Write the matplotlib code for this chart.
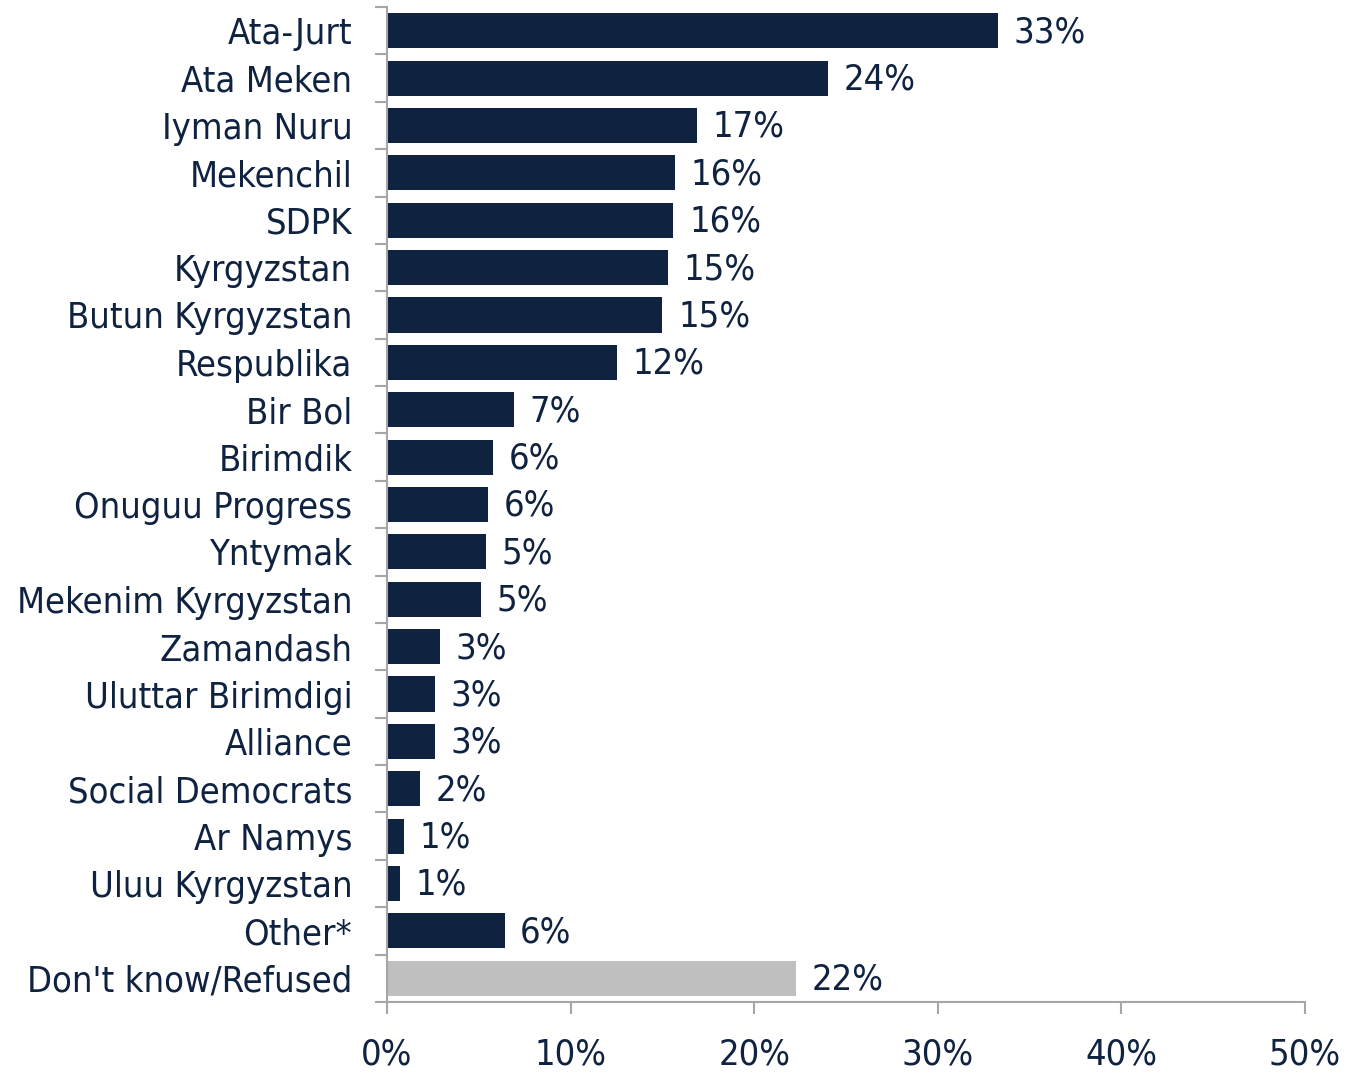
import matplotlib
matplotlib.use("Agg")
import matplotlib.pyplot as plt
import numpy as np

# party support, percent
parties = [
    "Ata-Jurt", "Ata Meken", "Iyman Nuru", "Mekenchil", "SDPK", "Kyrgyzstan",
    "Butun Kyrgyzstan", "Respublika", "Bir Bol", "Birimdik", "Onuguu Progress",
    "Yntymak", "Mekenim Kyrgyzstan", "Zamandash", "Uluttar Birimdigi",
    "Alliance", "Social Democrats", "Ar Namys", "Uluu Kyrgyzstan", "Other*",
    "Don't know/Refused",
]
values = [33.3, 24.0, 16.9, 15.7, 15.6, 15.3, 15.0, 12.5, 6.9, 5.8, 5.5,
          5.4, 5.1, 2.9, 2.6, 2.6, 1.8, 0.9, 0.7, 6.4, 22.3]
labels = ["33%", "24%", "17%", "16%", "16%", "15%", "15%", "12%", "7%", "6%",
          "6%", "5%", "5%", "3%", "3%", "3%", "2%", "1%", "1%", "6%", "22%"]
x_ticks = [0, 10, 20, 30, 40, 50]

navy = "#0F2341"
grey = "#BFBFBF"
axis_grey = "#A6A6A6"

plt.rcParams['font.family'] = ['DejaVu Sans']
plt.rcParams['font.stretch'] = 'condensed'

fig = plt.figure(figsize=(13.59, 10.77), dpi=100)
ax = fig.add_axes([387 / 1359, 1 - 1002 / 1077, (1305 - 387) / 1359, (1002 - 7) / 1077])

n = len(parties)
y = np.arange(n)
colors = [navy] * (n - 1) + [grey]
ax.barh(y, values, height=0.74, color=colors)

for yi, v, lab in zip(y, values, labels):
    ax.text(v + 0.85, yi + 0.03, lab, va="center", ha="left", fontsize=26, color=navy)

ax.set_xlim(0, 50)
ax.set_ylim(n - 0.5, -0.5)
ax.set_xticks(x_ticks)
ax.set_xticklabels([f"{t}%" for t in x_ticks], fontsize=26, color=navy)

ax.set_yticks(y)
ax.set_yticklabels(parties, fontsize=26, color=navy)
ax.tick_params(axis="y", which="major", length=0, pad=25)
ax.set_yticks(np.arange(n + 1) - 0.5, minor=True)
ax.tick_params(axis="y", which="minor", length=8.5, color=axis_grey, width=1.5)
ax.tick_params(axis="x", length=8.5, color=axis_grey, width=1.5, pad=17)

for s in ["top", "right"]:
    ax.spines[s].set_visible(False)
for s in ["left", "bottom"]:
    ax.spines[s].set_color(axis_grey)
    ax.spines[s].set_linewidth(1.5)

fig.savefig("out.png", dpi=100)
